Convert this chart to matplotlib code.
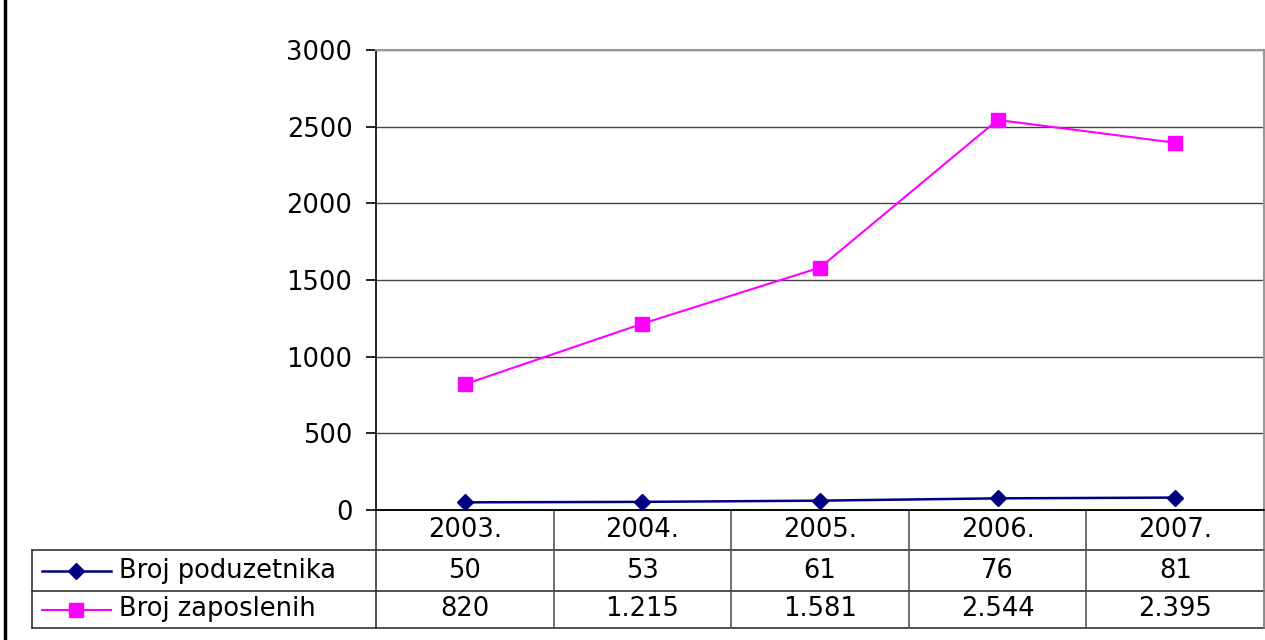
import matplotlib.pyplot as plt
from matplotlib.lines import Line2D
import matplotlib.transforms as mtransforms

plt.rcParams["font.family"] = ["DejaVu Sans"]

years = ["2003.", "2004.", "2005.", "2006.", "2007."]
poduzetnici = [50, 53, 61, 76, 81]
zaposleni = [820, 1215, 1581, 2544, 2395]
poduzetnici_txt = ["50", "53", "61", "76", "81"]
zaposleni_txt = ["820", "1.215", "1.581", "2.544", "2.395"]
series_names = ["Broj poduzetnika", "Broj zaposlenih"]

W, H = 1265, 640
FS = 18.5
fig = plt.figure(figsize=(W / 100, H / 100), dpi=100)

# plot area in pixel coords of the reference
x0, x1, ytop, ybot = 376, 1264, 50, 510
ax = fig.add_axes([x0 / W, 1 - ybot / H, (x1 - x0) / W, (ybot - ytop) / H])

x = range(len(years))
ax.plot(x, poduzetnici, color="#000080", lw=1.8, marker="D", ms=8.5, zorder=3, clip_on=False)
ax.plot(x, zaposleni, color="#FF00FF", lw=1.5, marker="s", ms=10, zorder=3, clip_on=False)

ax.set_xlim(-0.5, len(years) - 0.5)
ax.set_ylim(0, 3000)
ax.set_yticks(range(0, 3001, 500))
ax.set_xticks([])
ax.tick_params(axis="y", labelsize=FS, length=7, width=1.2, direction="out", pad=10, colors="black")
ax.grid(axis="y", color="#444444", lw=1.0)
for s in ["left", "bottom"]:
    ax.spines[s].set_color("black")
    ax.spines[s].set_linewidth(1.2)
for s in ["top", "right"]:
    ax.spines[s].set_color("#999999")
    ax.spines[s].set_linewidth(1.5)

# data table under the chart
ax_h = ybot - ytop
ax_w = x1 - x0
def ya(py):
    return (ybot - py) / ax_h
def xa(px):
    return (px - x0) / ax_w

row_y = [510, 550, 591, 628]
legend_left = 32
trans = mtransforms.blended_transform_factory(ax.transData, ax.transAxes)

lc = dict(color="#333333", lw=1.2, transform=ax.transAxes, clip_on=False)
# horizontal lines
ax.add_line(Line2D([xa(x0), 1], [ya(row_y[0])] * 2, **lc))
for py in row_y[1:]:
    ax.add_line(Line2D([xa(legend_left), 1], [ya(py)] * 2, **lc))
# vertical lines
ax.add_line(Line2D([xa(legend_left)] * 2, [ya(row_y[1]), ya(row_y[3])], **lc))
ax.add_line(Line2D([0, 0], [ya(row_y[0]), ya(row_y[3])], **lc))
ax.add_line(Line2D([1, 1], [ya(row_y[0]), ya(row_y[3])], color="#777777", lw=1.2,
                   transform=ax.transAxes, clip_on=False))
for i in range(1, len(years)):
    ax.add_line(Line2D([i - 0.5] * 2, [ya(row_y[0]), ya(row_y[3])], color="#555555", lw=1.2,
                       transform=trans, clip_on=False))

rows = [years, poduzetnici_txt, zaposleni_txt]
for r, labels in enumerate(rows):
    yc = ya((row_y[r] + row_y[r + 1]) / 2)
    for i, t in enumerate(labels):
        ax.text(i, yc, t, transform=trans, ha="center", va="center", fontsize=FS, clip_on=False)

# legend keys inside the table
styles = [("#000080", "D", 8.5, 1.8), ("#FF00FF", "s", 10, 1.5)]
for r, (name, (c, m, ms, lw)) in enumerate(zip(series_names, styles)):
    yc = ya((row_y[r + 1] + row_y[r + 2]) / 2)
    ax.add_line(Line2D([xa(42), xa(111)], [yc, yc], color=c, lw=lw,
                       transform=ax.transAxes, clip_on=False))
    ax.add_line(Line2D([xa(76)], [yc], color=c, marker=m, ms=ms, lw=0,
                       transform=ax.transAxes, clip_on=False))
    ax.text(xa(119), yc, name, transform=ax.transAxes, ha="left", va="center",
            fontsize=FS, clip_on=False)

# left frame edge
fig.add_artist(Line2D([5 / W, 5 / W], [0, 1], color="black", lw=2.5))

fig.savefig("out.png", dpi=100)
